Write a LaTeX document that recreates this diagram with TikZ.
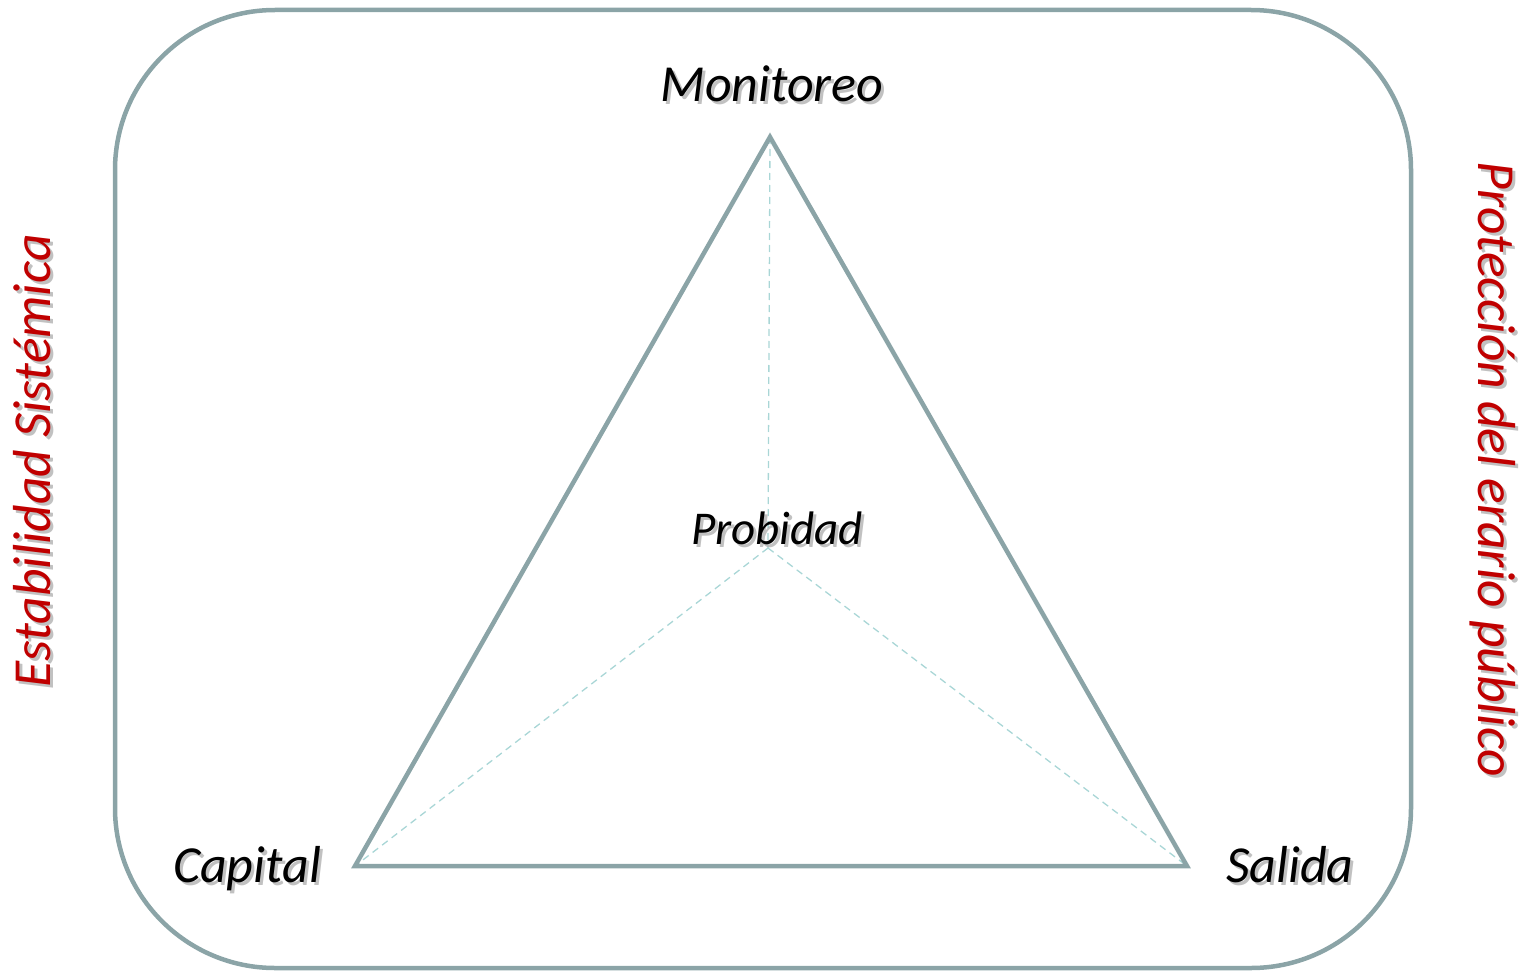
\documentclass[tikz,border=0pt]{standalone}
\usepackage{fontspec}
\setmainfont{Carlito}
\definecolor{framecol}{HTML}{8BA4A7}
\definecolor{dashcol}{HTML}{A9D6D6}
\definecolor{redtxt}{HTML}{C00000}
\tikzset{
  framelines/.style={draw=framecol, line width=4.5pt},
  guide/.style={draw=dashcol, line width=1.3pt, dash pattern=on 7pt off 5pt},
  lbl/.style={inner sep=0pt, font=\fontsize{52}{60}\selectfont\itshape, text=black},
  smalllbl/.style={inner sep=0pt, font=\fontsize{47}{55}\selectfont\itshape, text=black},
  sidelbl/.style={inner sep=0pt, font=\fontsize{53.5}{62}\selectfont\itshape, text=redtxt},
  shade/.style={text=black!30, opacity=0.8}
}
\begin{document}
\begin{tikzpicture}[x=1pt,y=1pt]
\useasboundingbox (0,0) rectangle (1523,-971);
% frame
\draw[framelines, rounded corners=160pt] (115,-10) rectangle (1411,-968);
% triangle vertices
\coordinate (top) at (770,-137);
\coordinate (bl) at (355,-866);
\coordinate (br) at (1187,-866);
\coordinate (ctr) at (768,-548);
\draw[guide] (top) -- (ctr);
\draw[guide] (ctr) -- (bl);
\draw[guide] (ctr) -- (br);
\draw[framelines, line join=miter] (top) -- (br) -- (bl) -- cycle;
% labels with shadows
\node[lbl, shade, anchor=base] (monS) at (775,-105) {Monitoreo};
\node[lbl, anchor=base] (mon) at (772,-102) {Monitoreo};
\node[smalllbl, shade, anchor=base] (proS) at (780,-547) {Probidad};
\node[smalllbl, anchor=base] (pro) at (777,-544) {Probidad};
\node[lbl, shade, anchor=base] (capS) at (250,-885) {Capital};
\node[lbl, anchor=base] (cap) at (247,-882) {Capital};
\node[lbl, shade, anchor=base] (salS) at (1293,-885) {Salida};
\node[lbl, anchor=base] (sal) at (1290,-882) {Salida};
% side labels
\node[sidelbl, shade, anchor=base, rotate=90] (estS) at (53,-464) {Estabilidad Sistémica};
\node[sidelbl, anchor=base, rotate=90] (est) at (50,-461) {Estabilidad Sistémica};
\node[sidelbl, shade, anchor=base, rotate=-90] (protS) at (1481,-472) {Protección del erario público};
\node[sidelbl, anchor=base, rotate=-90] (prot) at (1478,-469) {Protección del erario público};
\end{tikzpicture}
\end{document}
